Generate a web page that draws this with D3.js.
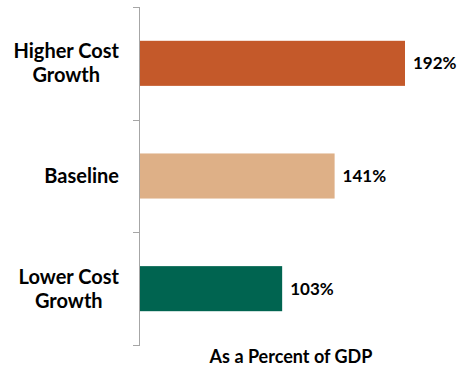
<!DOCTYPE html>
<html>
<head>
<meta charset="utf-8">
<script src="https://cdn.jsdelivr.net/npm/d3@7"></script>
<style>
  body { margin: 0; background: #fff; }
  text { font-family: Lato, "Open Sans", sans-serif; font-weight: bold; fill: #000; }
</style>
</head>
<body>
<svg id="chart" width="457" height="370"></svg>
<script>
const categories = [["Higher Cost", "Growth"], ["Baseline"], ["Lower Cost", "Growth"]];
const values = [192, 141, 103];
const valueLabels = ["192%", "141%", "103%"];
const colors = ["#C4592A", "#DEB087", "#006450"];
const axisTitle = "As a Percent of GDP";

const svg = d3.select('#chart');
const margin = { top: 7, left: 140, bottom: 25 };
const height = 370;

const y = d3.scaleBand()
    .domain(d3.range(values.length))
    .range([margin.top, height - margin.bottom])
    .paddingInner(0.6)
    .paddingOuter(0.3);

const x = d3.scaleLinear()
    .domain([0, 192])
    .range([margin.left, 405]);

// bars
svg.selectAll('rect.bar')
    .data(values)
    .enter()
    .append('rect')
    .attr('class', 'bar')
    .attr('x', x(0))
    .attr('y', (d, i) => y(i))
    .attr('width', d => x(d) - x(0))
    .attr('height', y.bandwidth())
    .attr('fill', (d, i) => colors[i]);

// axis line with ticks between categories
const step = y.step();
const tickYs = d3.range(values.length + 1).map(i => margin.top + i * step);
svg.append('line')
    .attr('x1', x(0) - 0.5).attr('x2', x(0) - 0.5)
    .attr('y1', tickYs[0]).attr('y2', tickYs[tickYs.length - 1])
    .attr('stroke', '#a6a6a6');
svg.selectAll('line.tick')
    .data(tickYs)
    .enter()
    .append('line')
    .attr('class', 'tick')
    .attr('x1', x(0) - 7).attr('x2', x(0))
    .attr('y1', d => Math.round(d) + 0.5).attr('y2', d => Math.round(d) + 0.5)
    .attr('stroke', '#a6a6a6');

// value labels
svg.selectAll('text.val')
    .data(values)
    .enter()
    .append('text')
    .attr('class', 'val')
    .attr('x', d => x(d) + 8)
    .attr('y', (d, i) => y(i) + y.bandwidth() / 2 + 6)
    .style('font-size', '17px')
    .text((d, i) => valueLabels[i]);

// category labels: block right-aligned, lines centred inside it
const labelRight = 119;
const lineH = 24;
categories.forEach((lines, i) => {
    const g = svg.append('g');
    const cy = y(i) + y.bandwidth() / 2;
    const texts = lines.map((t, j) => g.append('text')
        .style('font-size', '20px')
        .attr('text-anchor', 'middle')
        .attr('y', cy + 7 + (j - (lines.length - 1) / 2) * lineH)
        .text(t));
    const w = d3.max(texts, t => t.node().getComputedTextLength());
    texts.forEach(t => t.attr('x', labelRight - w / 2));
});

// axis title
svg.append('text')
    .attr('x', 291)
    .attr('y', 363)
    .attr('text-anchor', 'middle')
    .style('font-size', '18px')
    .text(axisTitle);
</script>
</body>
</html>
